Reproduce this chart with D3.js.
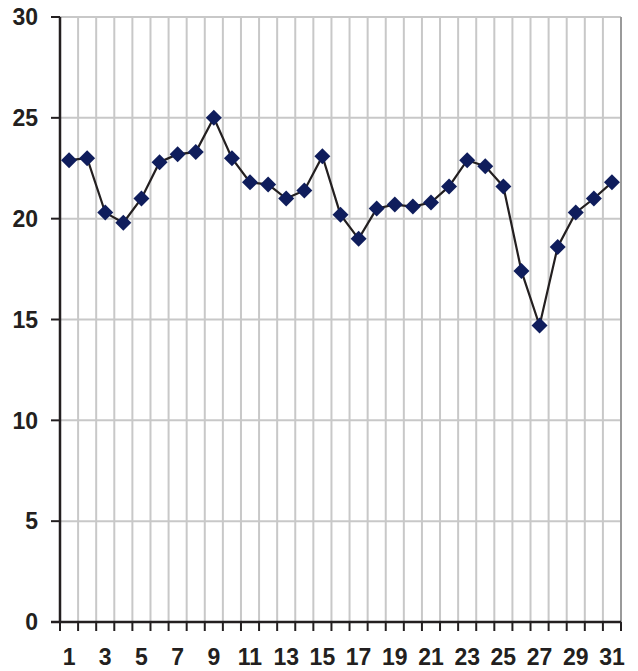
<!DOCTYPE html>
<html>
<head>
<meta charset="utf-8">
<script src="https://cdn.jsdelivr.net/npm/d3@7"></script>
<style>
  body { margin: 0; background: #fff; }
  text { font-family: "Liberation Sans", Arial, sans-serif; font-weight: bold; fill: #231f20; }
</style>
</head>
<body>
<div id="chart"></div>
<script>
// days of the month
var days = d3.range(1, 32);
// daily values
var values = [22.9, 23.0, 20.3, 19.8, 21.0, 22.8, 23.2, 23.3, 25.0, 23.0,
              21.8, 21.7, 21.0, 21.4, 23.1, 20.2, 19.0, 20.5, 20.7, 20.6,
              20.8, 21.6, 22.9, 22.6, 21.6, 17.4, 14.7, 18.6, 20.3, 21.0, 21.8];
var yTicks = [0, 5, 10, 15, 20, 25, 30];

(function () {
  var W = 638, H = 671;
  var mLeft = 60, mRight = 621, mTop = 17, mBottom = 622;

  var svg = d3.select("#chart").append("svg").attr("width", W).attr("height", H);

  var x = d3.scaleBand().domain(days).range([mLeft, mRight]).padding(0);
  var y = d3.scaleLinear().domain([0, 30]).range([mBottom, mTop]);

  // horizontal gridlines
  svg.append("g").selectAll("line").data(yTicks.filter(function(d){ return d > 0; })).enter()
    .append("line")
    .attr("x1", mLeft).attr("x2", mRight)
    .attr("y1", function(d){ return y(d); }).attr("y2", function(d){ return y(d); })
    .attr("stroke", "#c8c8c8").attr("stroke-width", 2);

  // vertical gridlines at category boundaries
  var bounds = days.slice(1).map(function(d){ return x(d); });
  svg.append("g").selectAll("line").data(bounds).enter()
    .append("line")
    .attr("x1", function(d){ return d; }).attr("x2", function(d){ return d; })
    .attr("y1", mTop).attr("y2", mBottom)
    .attr("stroke", "#c8c8c8").attr("stroke-width", 2);

  // right border
  svg.append("line")
    .attr("x1", mRight).attr("x2", mRight).attr("y1", mTop).attr("y2", mBottom)
    .attr("stroke", "#9a9a9a").attr("stroke-width", 2);

  // y axis
  svg.append("line").attr("x1", mLeft).attr("x2", mLeft).attr("y1", mTop).attr("y2", mBottom)
    .attr("stroke", "#231f20").attr("stroke-width", 2.5);
  svg.append("g").selectAll("line").data(yTicks).enter()
    .append("line")
    .attr("x1", mLeft - 9).attr("x2", mLeft)
    .attr("y1", function(d){ return y(d); }).attr("y2", function(d){ return y(d); })
    .attr("stroke", "#231f20").attr("stroke-width", 2);
  svg.append("g").selectAll("text").data(yTicks).enter()
    .append("text")
    .attr("x", 38)
    .attr("y", function(d){ return y(d); })
    .attr("dy", "0.36em")
    .attr("text-anchor", "end")
    .attr("font-size", 23)
    .text(function(d){ return d; });

  // x axis
  svg.append("line").attr("x1", mLeft - 9).attr("x2", mRight).attr("y1", mBottom).attr("y2", mBottom)
    .attr("stroke", "#231f20").attr("stroke-width", 2.5);
  var xt = days.map(function(d){ return x(d); }).concat([mRight]);
  svg.append("g").selectAll("line").data(xt).enter()
    .append("line")
    .attr("x1", function(d){ return d; }).attr("x2", function(d){ return d; })
    .attr("y1", mBottom).attr("y2", mBottom + 9)
    .attr("stroke", "#231f20").attr("stroke-width", 2);
  svg.append("g").selectAll("text").data(days.filter(function(d){ return d % 2 === 1; })).enter()
    .append("text")
    .attr("x", function(d){ return x(d) + x.bandwidth() / 2; })
    .attr("y", 665)
    .attr("text-anchor", "middle")
    .attr("font-size", 23)
    .text(function(d){ return d; });

  // series line
  var data = days.map(function(d, i){ return { k: d, v: values[i] }; });
  var line = d3.line()
    .x(function(d){ return x(d.k) + x.bandwidth() / 2; })
    .y(function(d){ return y(d.v); });
  svg.append("path").datum(data)
    .attr("d", line)
    .attr("fill", "none")
    .attr("stroke", "#231f20")
    .attr("stroke-width", 2.2);

  // diamond markers
  var r = 8;
  svg.append("g").selectAll("path").data(data).enter()
    .append("path")
    .attr("transform", function(d){ return "translate(" + (x(d.k) + x.bandwidth() / 2) + "," + y(d.v) + ")"; })
    .attr("d", "M0," + (-r) + "L" + r + ",0L0," + r + "L" + (-r) + ",0Z")
    .attr("fill", "#0f1d5c");
})();
</script>
</body>
</html>
